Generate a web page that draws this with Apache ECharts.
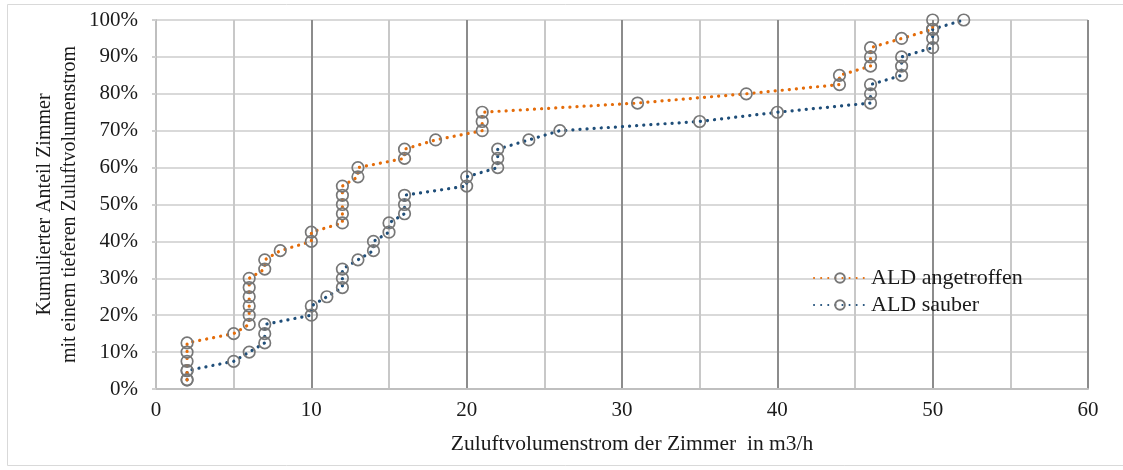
<!DOCTYPE html>
<html>
<head>
<meta charset="utf-8">
<script src="https://cdn.jsdelivr.net/npm/echarts@6/dist/echarts.min.js"></script>
<style>
html,body{margin:0;padding:0;background:#fff;}
#c{width:1123px;height:470px;}
</style>
</head>
<body>
<div id="c"></div>
<script>
// Zuluftvolumenstrom (m3/h) per room, sorted, and cumulative share (%)
var angetroffenX = [2,2,2,2,2,5,6,6,6,6,6,6,7,7,8,10,10,12,12,12,12,12,13,13,16,16,18,21,21,21,31,38,44,44,46,46,46,48,50,50];
var angetroffenY = [2.5,5,7.5,10,12.5,15,17.5,20,22.5,25,27.5,30,32.5,35,37.5,40,42.5,45,47.5,50,52.5,55,57.5,60,62.5,65,67.5,70,72.5,75,77.5,80,82.5,85,87.5,90,92.5,95,97.5,100];
var sauberX = [2,2,5,6,7,7,7,10,10,11,12,12,12,13,14,14,15,15,16,16,16,20,20,22,22,22,24,26,35,40,46,46,46,48,48,48,50,50,50,52];
var sauberY = [2.5,5,7.5,10,12.5,15,17.5,20,22.5,25,27.5,30,32.5,35,37.5,40,42.5,45,47.5,50,52.5,55,57.5,60,62.5,65,67.5,70,72.5,75,77.5,80,82.5,85,87.5,90,92.5,95,97.5,100];
var seriesNames = ['ALD angetroffen', 'ALD sauber'];
var xTitle = 'Zuluftvolumenstrom der Zimmer  in m3/h';
var yTitle = 'Kumulierter Anteil Zimmer\nmit einem tieferen Zuluftvolumenstrom';

function pairs(xs, ys){ return xs.map(function(x,i){ return [x, ys[i]]; }); }

var FONT = '"Liberation Serif", "Times New Roman", serif';
var chart = echarts.init(document.getElementById('c'), null, {renderer:'canvas'});
var dotted = [0.1, 7];
var markerStyle = {color:'rgba(255,255,255,0)', borderColor:'#777777', borderWidth:1.7};

chart.setOption({
  animation:false,
  backgroundColor:'#fff',
  graphic:[{type:'rect', shape:{x:7.5,y:4.5,width:1130,height:461}, style:{fill:'none', stroke:'#d9d9d9', lineWidth:1}, silent:true}],
  grid:{left:156, right:35, top:20, bottom:81, containLabel:false},
  legend:{
    data:seriesNames, orient:'vertical', left:808, top:262, itemGap:5,
    itemWidth:52, itemHeight:12,
    textStyle:{fontFamily:FONT, fontSize:22, color:'#1a1a1a'}
  },
  xAxis:{
    type:'value', min:0, max:60, interval:5,
    name:xTitle, nameLocation:'middle', nameGap:44,
    nameTextStyle:{fontFamily:FONT, fontSize:21.5, color:'#1a1a1a', padding:[0,0,0,20]},
    axisLine:{show:true, lineStyle:{color:'#bfbfbf', width:2}},
    axisTick:{show:false},
    axisLabel:{fontFamily:FONT, fontSize:21, color:'#1a1a1a', margin:11,
      formatter:function(v){ return v % 10 === 0 ? String(v) : ''; }},
    splitLine:{show:true, lineStyle:{color:['#8c8c8c','#c8c8c8'], width:2}}
  },
  yAxis:{
    type:'value', min:0, max:100, interval:10,
    name:yTitle, nameLocation:'middle', nameGap:74, nameRotate:90, nameMoveOverlap:false,
    nameTextStyle:{fontFamily:FONT, fontSize:20, color:'#1a1a1a', lineHeight:25},
    axisLine:{show:true, lineStyle:{color:'#bfbfbf', width:2}},
    axisTick:{show:true, inside:false, length:4, lineStyle:{color:'#d0d0d0', width:2}},
    axisLabel:{fontFamily:FONT, fontSize:21, color:'#1a1a1a', margin:18, formatter:'{value}%'},
    splitLine:{show:true, lineStyle:{color:'#d9d9d9', width:2}}
  },
  series:[
    {name:seriesNames[0], type:'line', data:pairs(angetroffenX, angetroffenY),
     symbol:'circle', symbolSize:11.5, showAllSymbol:true,
     lineStyle:{color:'#E46C0A', width:3.2, type:dotted, cap:'round'},
     itemStyle:markerStyle, z:3},
    {name:seriesNames[1], type:'line', data:pairs(sauberX, sauberY),
     symbol:'circle', symbolSize:11.5, showAllSymbol:true,
     lineStyle:{color:'#1F4E79', width:3.2, type:dotted, cap:'round'},
     itemStyle:markerStyle, z:2}
  ]
});
</script>
</body>
</html>
